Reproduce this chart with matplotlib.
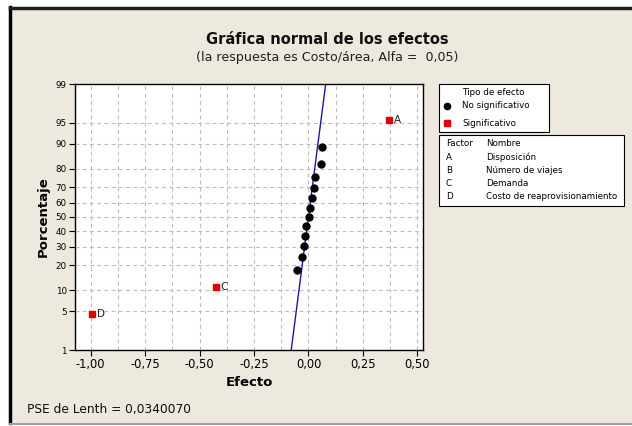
import matplotlib
matplotlib.use("Agg")
import matplotlib.pyplot as plt
from matplotlib.patches import Rectangle
from matplotlib.lines import Line2D
from statistics import NormalDist
import numpy as np

# Data
ns_effects = [-0.051, -0.031, -0.020, -0.016, -0.009, 0.001, 0.006, 0.017, 0.024, 0.029, 0.057, 0.061]
ns_percent = [17.5, 24.0, 30.5, 37.0, 43.5, 50.0, 56.5, 63.0, 69.5, 76.0, 82.5, 89.0]
sig_labels = ["D", "C", "A"]
sig_effects = [-0.993, -0.426, 0.370]
sig_percent = [4.5, 11.0, 95.5]
pse = 0.0340070
y_ticks = [1, 5, 10, 20, 30, 40, 50, 60, 70, 80, 90, 95, 99]
x_ticks = [-1.00, -0.75, -0.50, -0.25, 0.00, 0.25, 0.50]
factor_codes = ["A", "B", "C", "D"]
factor_names = ["Disposición", "Número de viajes", "Demanda", "Costo de reaprovisionamiento"]

nd = NormalDist()
def z(p):
    return nd.inv_cdf(p / 100.0)

W, H = 632, 426
fig = plt.figure(figsize=(W / 100, H / 100), dpi=100)
fig.patch.set_facecolor("white")
plt.rcParams['font.family'] = ['DejaVu Sans']

def fx(px): return px / W
def fy(py): return 1 - py / H

# beige panel with dark border lines
fig.patches.append(Rectangle((fx(10), fy(423)), fx(632) - fx(10), fy(7) - fy(423),
                             transform=fig.transFigure, facecolor="#EDE9DF", edgecolor="none", zorder=-5))
fig.add_artist(Line2D([fx(10.5), fx(10.5)], [fy(7), fy(423)], transform=fig.transFigure, color="black", lw=2.5, zorder=-4))
fig.add_artist(Line2D([fx(10), fx(632)], [fy(8), fy(8)], transform=fig.transFigure, color="#202020", lw=2.5, zorder=-4))
fig.add_artist(Line2D([fx(10), fx(632)], [fy(424), fy(424)], transform=fig.transFigure, color="#A0A0A0", lw=1.5, zorder=-4))

ax = fig.add_axes([fx(75), fy(350), fx(423) - fx(75), fy(84) - fy(350)])
ax.set_zorder(1)
ax.set_facecolor("white")

xmin, xmax = -1.072, 0.526
ax.set_xlim(xmin, xmax)
ax.set_ylim(z(1), z(99))

# grid
for gx in np.arange(-1.0, 0.51, 0.125):
    ax.axvline(gx, color="#BDBDBD", ls=(0, (3.5, 3)), lw=0.8, zorder=1)
for t in y_ticks[1:-1]:
    ax.axhline(z(t), color="#BDBDBD", ls=(0, (3.5, 3)), lw=0.8, zorder=1)

# reference line
zz = np.array([z(1), z(99)])
ax.plot(pse * zz, zz, color="#1A1AA0", lw=1.0, zorder=2)

ax.plot(ns_effects, [z(p) for p in ns_percent], "o", color="black", ms=5.0, zorder=3, clip_on=False)
ax.plot(sig_effects, [z(p) for p in sig_percent], "s", color="#E00000", ms=5.0, zorder=3)
for lab, xv, pv in zip(sig_labels, sig_effects, sig_percent):
    ax.annotate(lab, (xv, z(pv)), xytext=(3.5, 0), textcoords="offset points",
                va="center", ha="left", fontsize=7.5, color="#202020")

ax.set_xticks(x_ticks)
ax.set_xticklabels([f"{v:.2f}".replace(".", ",") for v in x_ticks], fontsize=8.3)
ax.set_yticks([z(t) for t in y_ticks])
ax.set_yticklabels([str(t) for t in y_ticks], fontsize=6.3)
ax.tick_params(axis="both", direction="out", length=4, width=0.8, colors="black")
ax.tick_params(axis="x", pad=2)
ax.tick_params(axis="y", pad=2)
for s in ax.spines.values():
    s.set_color("black")
    s.set_linewidth(1.0)

ax.set_xlabel("Efecto", fontsize=9.5, fontweight="bold", labelpad=3.5)
ax.set_ylabel("Porcentaje", fontsize=9.5, fontweight="bold", labelpad=4)

fig.text(fx(327), fy(40), "Gráfica normal de los efectos", ha="center", va="center",
         fontsize=10.5, fontweight="bold", color="#101010")
fig.text(fx(327), fy(58), "(la respuesta es Costo/área, Alfa =  0,05)", ha="center", va="center",
         fontsize=9.1, color="#202020")
fig.text(fx(27), fy(409), "PSE de Lenth = 0,0340070", ha="left", va="center", fontsize=8.8, color="#101010")

# legend 1
fig.patches.append(Rectangle((fx(439), fy(132)), fx(549) - fx(439), fy(84) - fy(132),
                             transform=fig.transFigure, facecolor="white", edgecolor="black", lw=0.8, zorder=5))
fig.text(fx(462), fy(93), "Tipo de efecto", fontsize=6.3, va="center", ha="left", zorder=6)
fig.add_artist(Line2D([fx(447)], [fy(106)], transform=fig.transFigure, marker="o", color="black", ms=4.5, ls="none", zorder=6))
fig.text(fx(462), fy(106), "No significativo", fontsize=6.3, va="center", ha="left", zorder=6)
fig.add_artist(Line2D([fx(447)], [fy(123)], transform=fig.transFigure, marker="s", color="#E00000", ms=4.5, ls="none", zorder=6))
fig.text(fx(462), fy(123), "Significativo", fontsize=6.3, va="center", ha="left", zorder=6)

# legend 2
fig.patches.append(Rectangle((fx(439), fy(206)), fx(624) - fx(439), fy(135) - fy(206),
                             transform=fig.transFigure, facecolor="white", edgecolor="black", lw=0.8, zorder=5))
fig.text(fx(446), fy(144), "Factor", fontsize=6.3, va="center", ha="left", zorder=6)
fig.text(fx(486), fy(144), "Nombre", fontsize=6.3, va="center", ha="left", zorder=6)
for i, (c, n) in enumerate(zip(factor_codes, factor_names)):
    yy = 157 + i * 13.3
    fig.text(fx(446), fy(yy), c, fontsize=6.3, va="center", ha="left", zorder=6)
    fig.text(fx(486), fy(yy), n, fontsize=6.3, va="center", ha="left", zorder=6)

fig.savefig("out.png", dpi=100, facecolor=fig.get_facecolor())
